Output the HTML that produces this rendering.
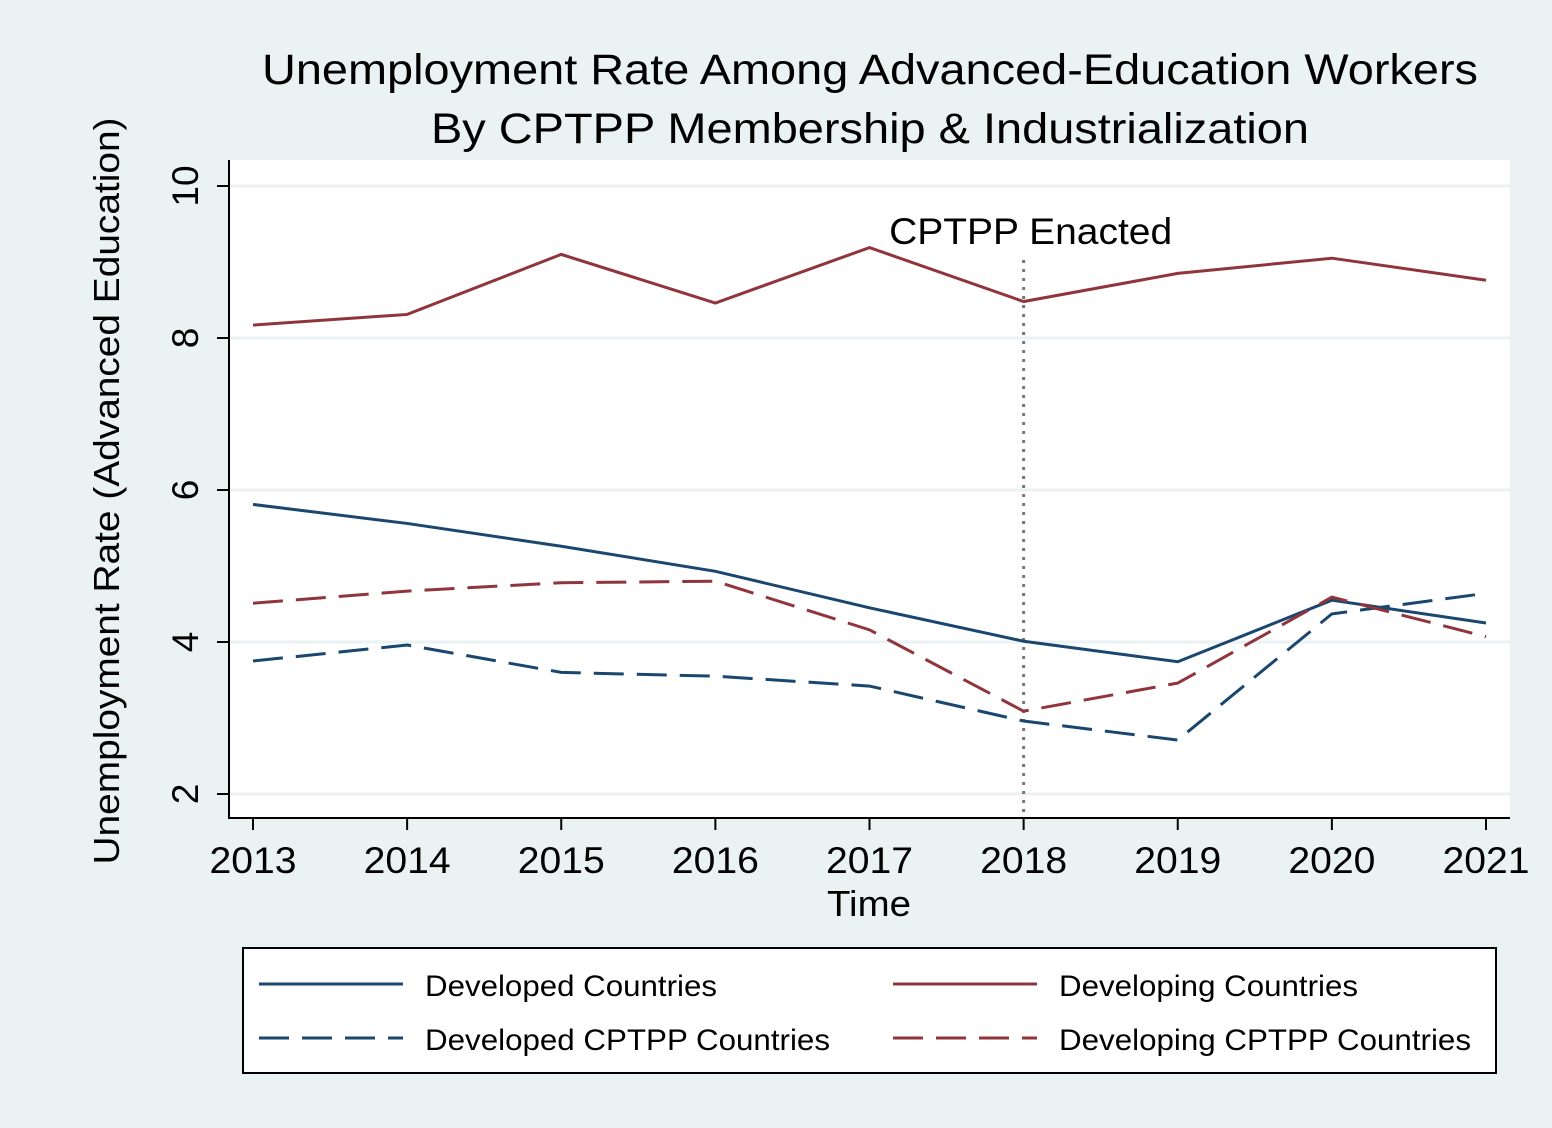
<!DOCTYPE html>
<html><head><meta charset="utf-8"><style>
body{margin:0;background:#eaf2f3;}
svg{display:block;font-family:"Liberation Sans",Arial,sans-serif;}
</style></head><body>
<svg id="chart" width="1552" height="1128" viewBox="0 0 1552 1128">
<rect x="0" y="0" width="1552" height="1128" fill="#eaf2f3"/>
<text x="870" y="84" font-size="43" text-anchor="middle" textLength="1216" lengthAdjust="spacingAndGlyphs">Unemployment Rate Among Advanced-Education Workers</text>
<text x="870" y="143" font-size="43" text-anchor="middle" textLength="878" lengthAdjust="spacingAndGlyphs">By CPTPP Membership &amp; Industrialization</text>
<rect x="229" y="160" width="1281" height="658" fill="#fff"/>
<g id="grid"></g>
<g id="axes"></g>
<g id="series"></g>
<text x="869" y="916" font-size="36" text-anchor="middle" textLength="84" lengthAdjust="spacingAndGlyphs">Time</text>
<text transform="translate(119,491) rotate(-90)" font-size="36" text-anchor="middle" textLength="747" lengthAdjust="spacingAndGlyphs">Unemployment Rate (Advanced Education)</text>
<g>
<rect x="243" y="948" width="1253" height="125" fill="#fff" stroke="#000" stroke-width="2"/>
<g><line x1="259" y1="984" x2="403" y2="984" stroke="#1a476f" stroke-width="3"/><text x="425" y="996" font-size="30" textLength="292" lengthAdjust="spacingAndGlyphs">Developed Countries</text></g>
<g><line x1="893" y1="984" x2="1037" y2="984" stroke="#90353b" stroke-width="3"/><text x="1059" y="996" font-size="30" textLength="299" lengthAdjust="spacingAndGlyphs">Developing Countries</text></g>
<g><line x1="259" y1="1038" x2="403" y2="1038" stroke="#1a476f" stroke-width="3" stroke-dasharray="30,13"/><text x="425" y="1050" font-size="30" textLength="405" lengthAdjust="spacingAndGlyphs">Developed CPTPP Countries</text></g>
<g><line x1="893" y1="1038" x2="1037" y2="1038" stroke="#90353b" stroke-width="3" stroke-dasharray="30,13"/><text x="1059" y="1050" font-size="30" textLength="412" lengthAdjust="spacingAndGlyphs">Developing CPTPP Countries</text></g>
</g>
</svg>
<script>
const years=[2013,2014,2015,2016,2017,2018,2019,2020,2021];
const yTicks=[2,4,6,8,10];
const developed=[5.81,5.56,5.26,4.93,4.45,4.01,3.74,4.55,4.25];
const developing=[8.17,8.31,9.1,8.46,9.19,8.48,8.85,9.05,8.76];
const developedCptpp=[3.75,3.96,3.6,3.55,3.42,2.96,2.71,4.37,4.64];
const developingCptpp=[4.51,4.67,4.78,4.8,4.16,3.09,3.46,4.59,4.07];
const eventYear=2018;
const NS="http://www.w3.org/2000/svg";
function X(y){return 253+(y-2013)*(1486-253)/8;}
function Y(v){return 186+(10-v)*76;}
function mk(tag,attrs,parent){const e=document.createElementNS(NS,tag);for(const k in attrs)e.setAttribute(k,attrs[k]);parent.appendChild(e);return e;}
const grid=document.getElementById('grid'),axes=document.getElementById('axes'),series=document.getElementById('series');
yTicks.forEach(t=>{
 const g=mk('line',{x1:229,x2:1510,y1:Y(t),y2:Y(t),stroke:'#eaf2f3','stroke-width':3},grid);
 
 
 const tk=mk('line',{x1:217,x2:229,y1:Y(t),y2:Y(t),stroke:'#000','stroke-width':2},axes);
 
 
 const tx=mk('text',{transform:`translate(198,${Y(t)}) rotate(-90)`,'font-size':37,'text-anchor':'middle'},axes);
 tx.textContent=t;
 
 
});
years.forEach(y=>{
 const tk=mk('line',{x1:X(y),x2:X(y),y1:818,y2:830,stroke:'#000','stroke-width':2},axes);
 
 
 const tx=mk('text',{x:X(y),y:873,'font-size':37,'text-anchor':'middle',textLength:87,lengthAdjust:'spacingAndGlyphs'},axes);
 tx.textContent=y;
 
 
});
const ya=mk('line',{x1:229,x2:229,y1:160,y2:819,stroke:'#000','stroke-width':2},axes);


const xa=mk('line',{x1:228,x2:1510,y1:818,y2:818,stroke:'#000','stroke-width':2},axes);


const ev=mk('line',{x1:X(eventYear),x2:X(eventYear),y1:260,y2:818,stroke:'#777','stroke-width':3,'stroke-dasharray':'3,6'},series);


const evt=mk('text',{x:X(eventYear)+7,y:244,'font-size':37,'text-anchor':'middle',textLength:283,lengthAdjust:'spacingAndGlyphs'},series);
evt.textContent='CPTPP Enacted';


function line(vals,color,dash,name){
 const p=mk('polyline',{points:vals.map((v,i)=>X(years[i])+','+Y(v)).join(' '),fill:'none',stroke:color,'stroke-width':3,'stroke-dasharray':dash},series);
 
 
}
line(developing,'#90353b','none','line-developing');
line(developed,'#1a476f','none','line-developed');
line(developedCptpp,'#1a476f','30,13','line-developed-cptpp');
line(developingCptpp,'#90353b','30,13','line-developing-cptpp');
</script>
</body></html>
